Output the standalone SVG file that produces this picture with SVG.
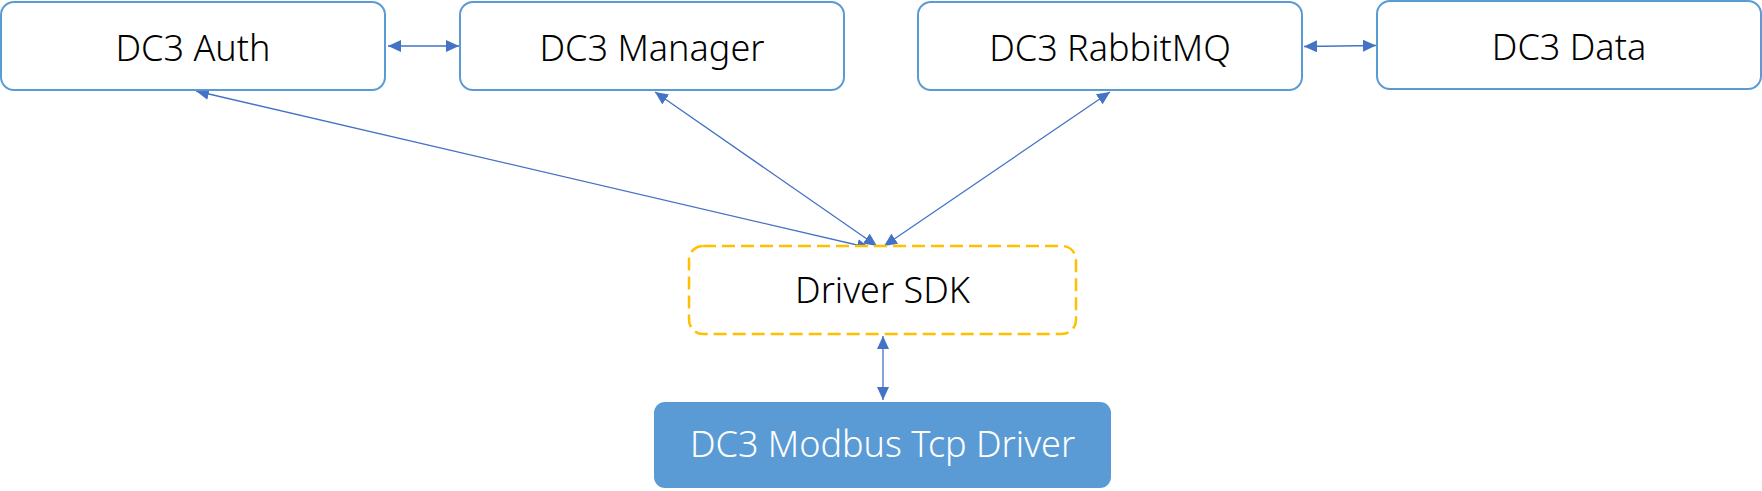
<svg xmlns="http://www.w3.org/2000/svg" width="1762" height="491" viewBox="0 0 1762 491">
<style>
.box{fill:#ffffff;stroke:#5B9BD5;stroke-width:2}
.sdk{fill:#ffffff;stroke:#FFC000;stroke-width:2.5;stroke-dasharray:13 6}
.drv{fill:#5B9BD5;stroke:none}
.lbl{font-family:"Noto Sans","Liberation Sans",sans-serif;font-size:36px;font-weight:300;fill:#000000;text-anchor:middle}
.wlbl{fill:#ffffff}
.conn{stroke:#4472C4;stroke-width:1.3;fill:none;marker-start:url(#arr);marker-end:url(#arr)}
</style>
<defs>
<marker id="arr" markerUnits="userSpaceOnUse" markerWidth="14" markerHeight="12" refX="13" refY="6" orient="auto-start-reverse" viewBox="0 0 14 12">
<path d="M0,0 L13,6 L0,12 Z" fill="#4472C4"/>
</marker>
</defs>
<rect width="1762" height="491" fill="#ffffff"/>
<g id="connectors">
<line class="conn" x1="388" y1="46" x2="459" y2="46"/>
<line class="conn" x1="1304" y1="46.5" x2="1376" y2="45.5"/>
<line class="conn" x1="196" y1="91" x2="870" y2="248"/>
<line class="conn" x1="655" y1="92" x2="877" y2="246"/>
<line class="conn" x1="1110" y1="92" x2="884" y2="246"/>
<line class="conn" x1="883" y1="336" x2="883" y2="400"/>
</g>
<g id="auth">
<rect class="box" x="1" y="2" width="384" height="88" rx="13"/>
<text class="lbl" x="193" y="61">DC3 Auth</text>
</g>
<g id="manager">
<rect class="box" x="460" y="2" width="384" height="88" rx="13"/>
<text class="lbl" x="652" y="61">DC3 Manager</text>
</g>
<g id="rabbitmq">
<rect class="box" x="918" y="2" width="384" height="88" rx="13"/>
<text class="lbl" x="1110" y="61">DC3 RabbitMQ</text>
</g>
<g id="data">
<rect class="box" x="1377" y="1" width="384" height="88" rx="13"/>
<text class="lbl" x="1569" y="60">DC3 Data</text>
</g>
<g id="driver-sdk">
<rect class="sdk" x="689" y="246" width="387" height="88" rx="14"/>
<text class="lbl" x="882.5" y="303">Driver SDK</text>
</g>
<g id="modbus-driver">
<rect class="drv" x="654" y="402" width="457" height="86" rx="11"/>
<text class="lbl wlbl" x="882.5" y="457">DC3 Modbus Tcp Driver</text>
</g>
</svg>
